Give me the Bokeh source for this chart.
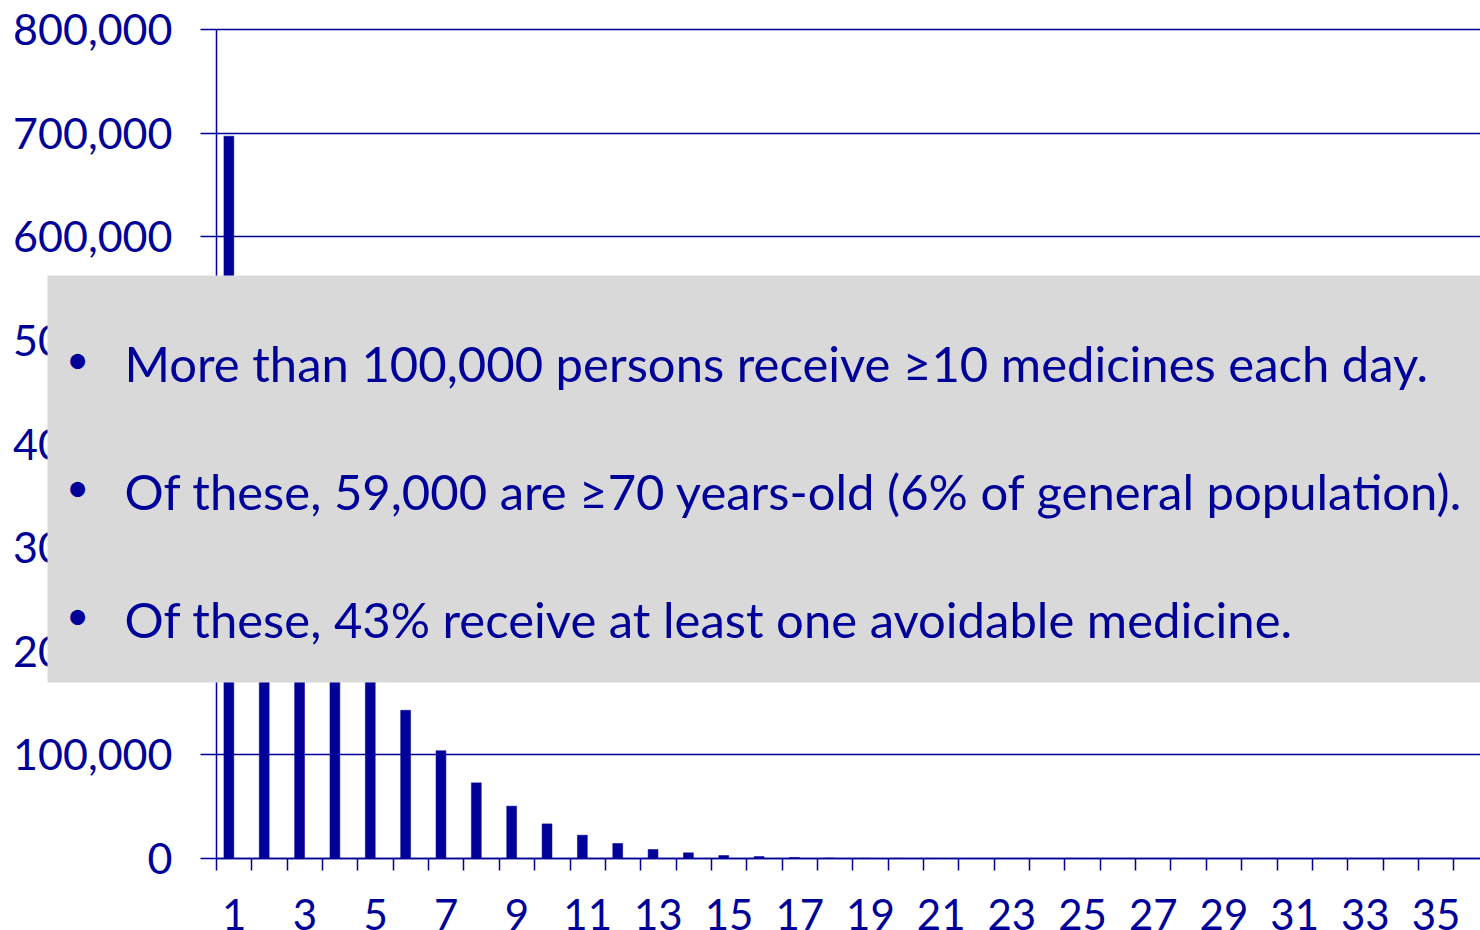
from bokeh.plotting import figure
from bokeh.models import (Range1d, FixedTicker, NumeralTickFormatter, BoxAnnotation,
                          Label, ColumnDataSource)
from bokeh.transform import dodge
from bokeh.embed import file_html
from bokeh.resources import INLINE

# ---- data ----
num_medicines = list(range(1, 37))
persons = [697000, 480000, 350000, 262000, 195000, 143000, 104000, 73000, 50500,
           33400, 22500, 14500, 8700, 5500, 2900, 1900, 1000, 500, 250, 120,
           60, 30, 15, 8, 4, 2, 1, 1, 0, 0, 0, 0, 0, 0, 0, 0]
x_tick_labels = [1, 3, 5, 7, 9, 11, 13, 15, 17, 19, 21, 23, 25, 27, 29, 31, 33, 35]
y_ticks = [0, 100000, 200000, 300000, 400000, 500000, 600000, 700000, 800000]
bullet_texts = [
    "More than 100,000 persons receive \u226510 medicines each day.",
    "Of these, 59,000 are \u226570 years-old (6% of general population).",
    "Of these, 43% receive at least one avoidable medicine.",
]

BLUE = "#000099"
FONT = "Lato"

# pixel geometry of the reference (page coordinates)
W, H = 1480, 930
AXIS_PX, TOP_PX, BASE_PX = 216, 29, 858
CAT_W = 35.35
Y_MAX = 800000
Y_PER_PX = Y_MAX / (BASE_PX - TOP_PX)
X_START = 0.5 - AXIS_PX / CAT_W          # data value at the canvas left edge
X_END = X_START + W / CAT_W
Y_END = (BASE_PX - 0) * Y_PER_PX         # data value at the canvas top edge
Y_START = (BASE_PX - H) * Y_PER_PX       # data value at the canvas bottom edge

def x_data(px):
    return X_START + px / CAT_W

def y_data(py):
    return (BASE_PX - py) * Y_PER_PX

src = ColumnDataSource(dict(n=num_medicines, persons=persons))

p = figure(width=W, height=H,
           x_range=Range1d(X_START, X_END), y_range=Range1d(Y_START, Y_END),
           output_backend="svg", toolbar_location=None,
           min_border_left=0, min_border_top=0, min_border_right=0,
           min_border_bottom=0)
p.outline_line_color = None
p.background_fill_color = "white"
p.border_fill_color = "white"

p.xgrid.grid_line_color = None
p.ygrid.ticker = FixedTicker(ticks=y_ticks)
p.ygrid.grid_line_color = BLUE
p.ygrid.grid_line_width = 1.5
p.ygrid.cross_bounds = (0.5, X_END + 1)

p.vbar(x=dodge("n", -0.15, range=p.x_range), top="persons", width=0.28,
       source=src, fill_color=BLUE, line_color=BLUE, line_width=0.5)

# x axis: ticks at category boundaries (minor), labels at odd categories
xa = p.xaxis[0]
xa.fixed_location = 0
xa.bounds = (0.5, X_END + 1)
xa.ticker = FixedTicker(ticks=x_tick_labels,
                        minor_ticks=[i + 0.5 for i in range(0, 37)])
xa.major_tick_out = 0
xa.major_tick_in = 0
xa.minor_tick_out = 12
xa.minor_tick_in = 0
xa.minor_tick_line_color = BLUE
xa.minor_tick_line_width = 1.5
xa.axis_line_color = BLUE
xa.axis_line_width = 1.5
xa.major_label_text_font = FONT
xa.major_label_text_font_size = "42px"
xa.major_label_text_color = BLUE
xa.major_label_standoff = 28

ya = p.yaxis[0]
ya.fixed_location = 0.5
ya.bounds = (0, Y_MAX)
ya.ticker = FixedTicker(ticks=y_ticks)
ya.formatter = NumeralTickFormatter(format="0,0")
ya.major_tick_out = 16
ya.major_tick_in = 0
ya.minor_tick_out = 0
ya.minor_tick_in = 0
ya.major_tick_line_color = BLUE
ya.major_tick_line_width = 1.5
ya.axis_line_color = BLUE
ya.axis_line_width = 1.5
ya.major_label_text_font = FONT
ya.major_label_text_font_size = "43px"
ya.major_label_text_color = BLUE
ya.major_label_standoff = 28

# grey overlay box
box = BoxAnnotation(left=x_data(47), top=y_data(275), bottom=y_data(682),
                    fill_color="#D9D9D9", fill_alpha=1.0, line_color=None)
p.add_layout(box)

baselines = [362, 490, 618]
for txt, by in zip(bullet_texts, baselines):
    p.add_layout(Label(x=x_data(77), y=y_data(by - 4), text="\u2022",
                       text_font=FONT, text_font_size="40px", text_color=BLUE,
                       text_align="center", text_baseline="alphabetic"))
    p.add_layout(Label(x=x_data(124), y=y_data(by), text=txt,
                       text_font=FONT, text_font_size="49px", text_color=BLUE,
                       text_align="left", text_baseline="alphabetic"))

open("out.html", "w").write(file_html(p, INLINE))
